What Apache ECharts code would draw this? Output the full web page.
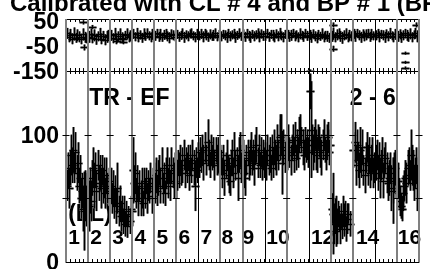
<!DOCTYPE html>
<html><head><meta charset="utf-8">
<script src="https://cdn.jsdelivr.net/npm/echarts@6/dist/echarts.min.js"></script>
<style>html,body{margin:0;padding:0;background:#fff;overflow:hidden}#c{width:430px;height:269px}</style>
</head><body><div id="c"></div>
<script>
const titleText = 'Calibrated with CL # 4 and BP # 1 (BP';
const grayBounds = [0,1,2,3,4,5,7,8,10,12,13,15,16];
const blackBounds = [6,9,11,14];
const topTickLabels = [50,-50,-150];
const bottomTickLabels = [0,100];
const lineTickValues = [50,100];
const segLabels = ['1','2','3','4','5','6','7','8','9','10','12','14','16'];
const segLabelX = [0.1,1.1,2.1,3.1,4.1,5.1,6.1,7.05,8.0,9.08,11.1,13.14,15.04];
const segLabelY = 19;
const notes = ['TR - EF','2 - 6','(LL)'];
const noteX = [1.05,12.86,0.1];
const noteY = [128.5,128.5,37];

// bottom panel: TR - EF values, 20 points per segment
const bottomX = [
 0.03,0.08,0.13,0.18,0.23,0.28,0.33,0.38,0.43,0.48,0.53,0.58,0.63,0.68,0.73,0.78,0.82,0.86,0.91,0.96,
 1.03,1.08,1.13,1.18,1.23,1.28,1.33,1.38,1.43,1.48,1.53,1.58,1.63,1.68,1.73,1.78,1.83,1.88,1.93,1.97,
 2.03,2.08,2.13,2.18,2.23,2.28,2.33,2.38,2.43,2.48,2.53,2.58,2.63,2.68,2.73,2.78,2.83,2.88,2.93,2.97,
 3.04,3.08,3.13,3.18,3.23,3.28,3.33,3.38,3.43,3.48,3.53,3.58,3.63,3.68,3.73,3.78,3.83,3.88,3.93,3.97,
 4.03,4.08,4.13,4.18,4.23,4.28,4.33,4.38,4.43,4.48,4.53,4.58,4.63,4.68,4.73,4.78,4.83,4.88,4.93,4.97,
 5.03,5.08,5.13,5.18,5.23,5.28,5.33,5.38,5.43,5.48,5.53,5.58,5.63,5.68,5.73,5.78,5.85,5.88,5.93,5.97,
 6.03,6.08,6.13,6.18,6.23,6.28,6.33,6.44,6.48,6.53,6.58,6.63,6.68,6.73,6.78,6.83,6.88,6.92,6.95,6.98,
 7.03,7.08,7.13,7.18,7.23,7.28,7.33,7.38,7.43,7.48,7.53,7.58,7.63,7.68,7.73,7.78,7.83,7.88,7.93,7.97,
 8.03,8.08,8.13,8.18,8.23,8.28,8.33,8.38,8.43,8.48,8.53,8.58,8.63,8.68,8.73,8.78,8.83,8.88,8.93,8.97,
 9.03,9.08,9.13,9.18,9.23,9.28,9.33,9.38,9.43,9.48,9.53,9.58,9.63,9.68,9.72,9.76,9.80,9.85,9.91,9.96,
 10.03,10.08,10.13,10.18,10.23,10.28,10.33,10.38,10.43,10.48,10.53,10.58,10.62,10.66,10.72,10.78,10.83,10.88,10.93,10.97,
 11.06,11.10,11.14,11.18,11.23,11.28,11.33,11.38,11.43,11.48,11.53,11.58,11.63,11.68,11.73,11.78,11.83,11.88,11.93,11.97,
 12.04,12.10,12.14,12.18,12.22,12.26,12.30,12.34,12.38,12.42,12.46,12.50,12.54,12.58,12.62,12.66,12.70,12.75,12.80,12.85,
 13.03,13.08,13.13,13.18,13.23,13.28,13.33,13.38,13.43,13.48,13.53,13.58,13.63,13.68,13.73,13.78,13.83,13.88,13.93,13.97,
 14.03,14.08,14.13,14.18,14.23,14.28,14.33,14.38,14.43,14.48,14.53,14.58,14.63,14.68,14.73,14.80,14.84,14.88,14.93,14.97,
 15.03,15.08,15.13,15.18,15.23,15.28,15.33,15.38,15.43,15.48,15.53,15.58,15.64,15.68,15.73,15.78,15.83,15.88,15.93,15.97
];
const bottomY = [
 60,72,58,74,84,76,88,74,86,70,78,60,66,50,56,42,40,52,44,56,
 44,56,48,66,74,60,72,56,76,62,70,58,72,60,66,54,68,58,64,56,
 60,50,58,46,56,44,58,40,46,36,42,32,40,30,38,28,36,32,42,40,
 72,62,70,54,62,48,60,50,58,46,62,54,64,50,60,56,66,52,62,66,
 58,68,56,66,72,60,74,58,66,54,70,76,62,72,60,76,70,64,74,62,
 68,78,72,80,70,76,84,70,80,74,82,68,80,72,84,74,60,78,72,82,
 76,86,80,88,78,90,80,94,84,76,88,82,86,76,88,80,84,78,86,80,
 78,70,80,66,76,84,72,68,64,78,82,70,88,76,80,66,84,88,74,82,
 84,70,66,80,86,76,82,90,78,84,74,88,92,78,88,76,86,74,84,78,
 84,76,88,80,84,74,88,78,90,84,80,94,84,96,98,100,78,90,82,88,
 84,94,86,80,90,96,84,98,82,92,86,100,104,96,90,84,94,88,92,86,
 134,104,96,86,92,100,88,84,98,94,86,82,92,100,88,84,94,98,86,92,
 42,38,30,36,24,40,28,38,34,26,36,28,40,30,34,38,26,34,38,30,
 88,94,76,92,80,72,88,78,90,72,68,82,90,76,84,70,78,84,70,74,
 78,84,70,80,66,76,84,64,78,82,70,62,66,74,58,56,64,70,74,64,
 64,54,48,44,42,54,60,66,62,74,76,68,84,76,72,62,70,76,58,66
];
const bottomErr = [
 12,14,16,14,16,14,18,12,16,14,16,14,18,16,14,18,31,20,16,14,
 20,18,16,14,16,18,14,16,12,14,14,16,12,14,16,12,14,12,10,12,
 14,12,14,12,12,14,20,12,14,12,10,10,12,10,10,9,8,10,10,12,
 26,14,16,12,14,12,12,14,16,10,12,12,10,12,12,10,12,14,12,12,
 12,14,12,14,12,14,16,12,12,10,12,14,12,10,12,14,12,14,12,12,
 12,10,14,12,10,14,12,12,10,12,10,12,12,10,12,14,20,12,10,12,
 10,12,10,12,14,12,12,18,12,10,12,10,12,12,10,12,14,10,12,12,
 10,12,12,14,10,12,12,14,12,10,14,12,14,12,10,18,14,14,12,10,
 12,12,14,12,10,12,14,12,10,12,14,12,14,12,12,10,12,10,12,12,
 10,12,12,12,14,10,12,12,14,12,12,14,12,16,18,16,25,14,12,12,
 12,14,12,12,10,12,14,12,10,12,12,14,12,10,14,12,12,10,12,12,
 14,38,12,14,14,12,16,14,10,12,12,14,12,12,10,12,14,12,10,12,
 12,32,16,14,12,12,14,10,10,12,10,10,12,10,12,10,10,12,8,10,
 14,16,16,12,14,14,18,12,14,12,14,12,12,16,14,12,14,14,12,12,
 14,12,14,14,16,12,14,14,12,12,16,14,14,12,18,26,18,16,14,14,
 14,12,12,10,10,14,12,14,16,14,14,12,20,16,16,14,12,14,18,16
];

// top panel: residuals, 12 points per segment plus outliers
const topX = [
 0.04,0.12,0.20,0.28,0.36,0.44,0.52,0.60,0.68,0.76,0.84,0.92,
 1.04,1.12,1.20,1.28,1.36,1.44,1.52,1.60,1.68,1.76,1.84,1.92,
 2.04,2.12,2.20,2.28,2.36,2.44,2.52,2.60,2.68,2.76,2.84,2.92,
 3.04,3.12,3.20,3.28,3.36,3.44,3.52,3.60,3.68,3.76,3.84,3.92,
 4.04,4.12,4.20,4.28,4.36,4.44,4.52,4.60,4.68,4.76,4.84,4.92,
 5.04,5.12,5.20,5.28,5.36,5.44,5.52,5.60,5.68,5.76,5.84,5.92,
 6.04,6.12,6.20,6.28,6.36,6.44,6.52,6.60,6.68,6.76,6.84,6.92,
 7.04,7.12,7.20,7.28,7.36,7.44,7.52,7.60,7.68,7.76,7.84,7.92,
 8.04,8.12,8.20,8.28,8.36,8.44,8.52,8.60,8.68,8.76,8.84,8.92,
 9.04,9.12,9.20,9.28,9.36,9.44,9.52,9.60,9.68,9.76,9.84,9.92,
 10.04,10.12,10.20,10.28,10.36,10.44,10.52,10.60,10.68,10.76,10.84,10.92,
 11.04,11.12,11.20,11.28,11.36,11.44,11.52,11.60,11.68,11.76,11.84,11.92,
 12.04,12.12,12.20,12.28,12.36,12.44,12.52,12.60,12.68,12.76,12.84,12.92,
 13.04,13.12,13.20,13.28,13.36,13.44,13.52,13.60,13.68,13.76,13.84,13.92,
 14.04,14.12,14.20,14.28,14.36,14.44,14.52,14.60,14.68,14.76,14.84,14.92,
 15.04,15.12,15.20,15.28,15.36,15.44,15.52,15.60,15.68,15.76,15.84,15.92,
 0.78,0.80,1.20,2.30,2.60,12.10,12.12,15.35,15.37,15.36,15.85,11.05
];
const topY = [
 2,-14,-4,-20,0,-16,-6,-12,-22,-2,-14,-18,
 -12,0,-18,-6,-22,-10,-2,-20,-8,-24,-12,-4,
 -6,-18,0,-20,-10,-2,-16,-22,-6,0,-14,-8,
 0,-12,2,-14,-4,-16,0,-10,2,-8,-14,-2,
 -8,2,-12,-2,-14,-4,2,-10,-16,0,-6,-12,
 -2,-12,-6,2,-14,-4,-10,0,2,-8,-14,-2,
 -8,0,-12,2,-6,-14,-2,-10,-6,2,-12,-4,
 -10,-2,-6,-14,2,-10,-4,0,-14,-6,2,-10,
 0,-12,2,-8,-14,-2,-10,-4,2,-12,0,-8,
 -8,2,-12,-2,-6,-14,0,-10,2,-8,-14,-2,
 -2,-12,-6,2,-10,-4,-14,0,-6,-12,2,-8,
 -4,-14,0,-10,-16,-4,-10,0,-14,-6,-10,-16,
 -10,0,-14,-4,2,-10,-16,-6,0,-14,-6,-10,
 0,-10,2,-6,-14,0,-10,-4,2,-12,-2,-8,
 -6,2,-12,-2,-6,-14,0,-10,2,-8,-14,-2,
 -10,-2,-14,-6,2,-6,-12,0,-14,-4,2,-10,
 46,-55,28,-30,-32,36,-60,-78,-115,-138,36,-150
];
const topErr = [
 22,20,24,22,26,20,24,22,20,24,22,20,
 24,22,20,24,22,20,26,22,20,22,24,20,
 22,20,24,22,20,24,22,20,18,22,20,22,
 20,18,22,20,18,20,22,18,20,18,20,22,
 20,18,20,22,18,20,18,20,22,18,20,18,
 18,20,18,20,22,18,20,18,20,18,20,22,
 18,20,22,18,20,18,20,18,22,20,18,20,
 20,18,20,22,18,20,18,20,22,18,20,18,
 18,20,18,20,22,18,20,18,20,22,18,20,
 20,18,20,18,22,20,18,20,22,18,20,18,
 18,20,22,18,20,18,20,22,18,20,18,20,
 20,22,18,20,22,20,18,22,20,18,22,20,
 22,24,20,22,20,22,24,20,22,20,22,20,
 20,22,18,20,22,18,20,22,18,20,22,18,
 20,18,22,18,20,22,18,20,22,18,20,22,
 22,20,22,20,18,22,20,22,20,18,22,24,
 8,12,8,6,6,10,12,6,6,6,10,6
];

const zip3 = (a,b,c) => a.map((v,i) => [v, b[i], c[i]]);
const topData = zip3(topX, topY, topErr);
const bottomData = zip3(bottomX, bottomY, bottomErr);
const FONT = 'Liberation Sans, Arial, sans-serif';

function errRender(color, width) {
  return function (params, api) {
    const x = api.value(0), y = api.value(1), e = api.value(2);
    const c = api.coord([x, y]);
    const t = api.coord([x, y + e]);
    const b = api.coord([x, y - e]);
    const cx = Math.round(c[0]) + 0.5, cy = Math.round(c[1]) + 0.5;
    const st = { stroke: color, lineWidth: width };
    return { type: 'group', children: [
      { type: 'line', shape: { x1: cx, y1: t[1], x2: cx, y2: b[1] }, style: st },
      { type: 'line', shape: { x1: cx - 4, y1: cy, x2: cx + 4, y2: cy }, style: st }
    ]};
  };
}
function boundRender(color, width, ymin, ymax) {
  return function (params, api) {
    const k = api.value(0);
    const a = api.coord([k, ymin]), b = api.coord([k, ymax]);
    const x = width % 2 ? Math.round(a[0]) + 0.5 : Math.round(a[0]);
    return { type: 'line', shape: { x1: x, y1: a[1], x2: x, y2: b[1] }, style: { stroke: color, lineWidth: width } };
  };
}
const allBounds = grayBounds.concat(blackBounds);
const lineTicks = [];
allBounds.forEach(k => lineTickValues.forEach(v => lineTicks.push([k, v])));

function textRender(size, align, dx, dy) {
  return function (params, api) {
    const c = api.coord([api.value(0), api.value(1)]);
    return { type: 'text', x: c[0] + dx, y: c[1] + dy, style: { text: String(api.value(2)), fill: '#000', fontSize: size, fontWeight: 'bold', fontFamily: FONT, align: align, verticalAlign: 'middle' } };
  };
}

function xAx(gridIndex, position) {
  return { type: 'value', gridIndex, position, min: 0, max: 16, interval: 1,
    axisLine: { show: true, onZero: false, lineStyle: { color: '#000', width: 1 } },
    axisTick: { show: true, inside: true, length: 3, lineStyle: { color: '#000', width: 1 } },
    minorTick: { show: true, splitNumber: 5, length: 3, lineStyle: { color: '#000', width: 1 } },
    axisLabel: { show: false }, splitLine: { show: false } };
}

const chart = echarts.init(document.getElementById('c'), null, { renderer: 'canvas' });
chart.setOption({
  animation: false,
  backgroundColor: '#fff',
  graphic: [{ type: 'text', x: 10, y: 4, style: { text: titleText, fill: '#000', fontSize: 24, fontWeight: 'bold', fontFamily: FONT, verticalAlign: 'middle' } }],
  grid: [
    { left: 66, right: 11, top: 19, height: 52 },
    { left: 66, right: 11, top: 71, height: 191 }
  ],
  xAxis: [xAx(0, 'top'), xAx(0, 'bottom'), xAx(1, 'bottom'), xAx(1, 'top')],
  yAxis: [
    { type: 'value', gridIndex: 0, min: -150, max: 60, interval: 50, axisLine: { show: false }, axisTick: { show: false }, splitLine: { show: false }, axisLabel: { show: false } },
    { type: 'value', gridIndex: 1, min: 0, max: 150, interval: 50, axisLine: { show: false }, axisTick: { show: false }, splitLine: { show: false }, axisLabel: { show: false } }
  ],
  series: [
    { type: 'custom', xAxisIndex: 0, yAxisIndex: 0, z: 1, data: topTickLabels.map(v => [0, v, String(v)]), renderItem: textRender(23, 'right', -7, 1.5) },
    { type: 'custom', xAxisIndex: 2, yAxisIndex: 1, z: 1, data: bottomTickLabels.map(v => [0, v, String(v)]), renderItem: textRender(23, 'right', -7, 1.5) },
    { type: 'custom', xAxisIndex: 2, yAxisIndex: 1, z: 1, data: notes.map((t, i) => [noteX[i], noteY[i], t]), renderItem: textRender(23, 'left', 0, 0) },
    { type: 'custom', xAxisIndex: 2, yAxisIndex: 1, z: 1, data: segLabels.map((t, i) => [segLabelX[i], segLabelY, t]), renderItem: textRender(21, 'left', 0, 0) },
    { type: 'custom', xAxisIndex: 0, yAxisIndex: 0, z: 2, clip: true, data: topData, renderItem: errRender('#7a7a7a', 2.6) },
    { type: 'custom', xAxisIndex: 0, yAxisIndex: 0, z: 3, clip: true, data: topData, renderItem: errRender('#000', 1.2) },
    { type: 'custom', xAxisIndex: 2, yAxisIndex: 1, z: 2, clip: true, data: bottomData, renderItem: errRender('#7a7a7a', 2.6) },
    { type: 'custom', xAxisIndex: 2, yAxisIndex: 1, z: 3, clip: true, data: bottomData, renderItem: errRender('#000', 1.2) },
    { type: 'custom', xAxisIndex: 0, yAxisIndex: 0, z: 4, data: grayBounds.map(k => [k]), renderItem: boundRender('#808080', 2, -150, 60) },
    { type: 'custom', xAxisIndex: 0, yAxisIndex: 0, z: 4, data: blackBounds.map(k => [k]), renderItem: boundRender('#000', 1, -150, 60) },
    { type: 'custom', xAxisIndex: 2, yAxisIndex: 1, z: 4, data: grayBounds.map(k => [k]), renderItem: boundRender('#808080', 2, 0, 150) },
    { type: 'custom', xAxisIndex: 2, yAxisIndex: 1, z: 4, data: blackBounds.map(k => [k]), renderItem: boundRender('#000', 1, 0, 150) },
    { type: 'custom', xAxisIndex: 2, yAxisIndex: 1, z: 5, data: lineTicks, renderItem: function (params, api) {
        const c = api.coord([api.value(0), api.value(1)]);
        const y = Math.round(c[1]) + 0.5;
        return { type: 'line', shape: { x1: c[0] - 3.5, y1: y, x2: c[0] + 3.5, y2: y }, style: { stroke: '#000', lineWidth: 1 } };
      } }
  ]
});
</script></body></html>
